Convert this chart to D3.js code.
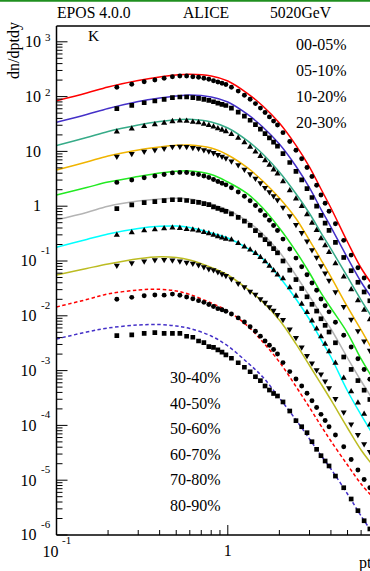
<!DOCTYPE html>
<html>
<head>
<meta charset="utf-8">
<script src="https://cdn.jsdelivr.net/npm/d3@7"></script>
<style>
  html, body { margin: 0; padding: 0; background: #fff; }
  svg { display: block; }
</style>
</head>
<body>
<svg id="chart" width="370" height="571"></svg>
<script>
// pt bin centres of the measured points (GeV/c)
const ptBins = [0.225, 0.275, 0.325, 0.375, 0.425, 0.475, 0.525, 0.575, 0.625, 0.675,
  0.725, 0.775, 0.825, 0.875, 0.925, 0.975, 1.05, 1.15, 1.25, 1.35, 1.45, 1.55, 1.65,
  1.75, 1.85, 1.95, 2.1, 2.3, 2.5, 2.7, 2.9, 3.1, 3.3, 3.5, 3.7, 3.9, 4.25, 4.75, 5.25,
  5.75, 6.25, 6.75];

// data points, one array per centrality class
const data00_05 = [148, 168, 187, 201, 216, 231, 238, 238, 231, 225, 216, 207, 195, 185, 175, 166,
  148, 126, 106, 89.3, 74.5, 61.7, 51.1, 42.6, 35.7, 30.3, 22.0, 15.2, 10.5, 7.33, 5.08, 3.48,
  2.42, 1.60, 1.135, 0.811, 0.477, 0.238, 0.128, 0.0751, 0.049, 0.0338];
const data05_10 = [60.4, 69.1, 77.3, 83.1, 89.2, 95.5, 98.3, 98.3, 95.5, 93.1, 89.2, 85.5, 80.6,
  76.2, 72.3, 68.8, 61.5, 52.2, 44.1, 37.0, 30.8, 25.5, 21.1, 17.6, 14.8, 12.5, 9.12, 6.27, 4.33,
  3.03, 2.10, 1.44, 1.00, 0.68, 0.493, 0.362, 0.219, 0.116, 0.0665, 0.0409, 0.0272, 0.0188];
const data10_20 = [22.8, 25.8, 28.8, 30.9, 33.1, 35.3, 36.2, 35.9, 34.5, 33.6, 31.7, 30.0, 28.1,
  26.3, 24.7, 23.2, 20.6, 17.5, 14.6, 12.0, 9.9, 8.2, 6.81, 5.65, 4.65, 3.90, 2.81, 1.94, 1.37,
  0.998, 0.708, 0.495, 0.364, 0.258, 0.191, 0.144, 0.0904, 0.0517, 0.0302, 0.0191, 0.0127, 0.00855];
const data20_30 = [8.1, 9.07, 10.0, 10.65, 11.3, 12.1, 12.3, 12.2, 11.7, 11.25, 10.6, 10.1, 9.4,
  8.66, 8.04, 7.48, 6.62, 5.62, 4.69, 3.85, 3.19, 2.64, 2.18, 1.82, 1.53, 1.30, 0.947, 0.66, 0.46,
  0.326, 0.229, 0.159, 0.116, 0.081, 0.0597, 0.0441, 0.0273, 0.0147, 0.00855, 0.00526, 0.00344, 0.00233];
const data30_40 = [2.72, 3.01, 3.31, 3.56, 3.80, 4.05, 4.14, 4.11, 3.93, 3.79, 3.56, 3.34, 3.07,
  2.83, 2.63, 2.45, 2.17, 1.82, 1.52, 1.26, 1.03, 0.837, 0.68, 0.555, 0.443, 0.36, 0.251, 0.166,
  0.113, 0.0787, 0.056, 0.0398, 0.0293, 0.0203, 0.0153, 0.0118, 0.0076, 0.00443, 0.0027, 0.00164,
  0.00105, 0.000695];
const data40_50 = [0.904, 1.06, 1.16, 1.21, 1.26, 1.31, 1.31, 1.27, 1.21, 1.17, 1.11, 1.065, 0.975,
  0.91, 0.852, 0.804, 0.723, 0.627, 0.535, 0.448, 0.359, 0.297, 0.246, 0.205, 0.168, 0.141, 0.100,
  0.068, 0.0458, 0.0314, 0.0222, 0.0162, 0.0122, 0.00882, 0.0067, 0.00506, 0.00322, 0.00177,
  0.00105, 0.000657, 0.000439, 0.000297];
const data50_60 = [0.297, 0.33, 0.359, 0.377, 0.39, 0.405, 0.398, 0.38, 0.373, 0.356, 0.334, 0.318,
  0.297, 0.28, 0.265, 0.252, 0.243, 0.21, 0.182, 0.16, 0.138, 0.117, 0.0975, 0.0814, 0.0672, 0.056,
  0.0477, 0.0328, 0.0231, 0.0164, 0.0116, 0.0081, 0.00582, 0.00419, 0.00307, 0.00224, 0.00137,
  0.000736, 0.000416, 0.000258, 0.000162, 0.000103];
const data60_70 = [0.0826, 0.0924, 0.099, 0.104, 0.105, 0.103, 0.099, 0.094, 0.0899, 0.0842, 0.0778,
  0.0717, 0.0688, 0.0631, 0.0582, 0.0537, 0.0469, 0.0390, 0.0337, 0.0278, 0.0244, 0.0202, 0.0174,
  0.0145, 0.0125, 0.0104, 0.00845, 0.0057, 0.00397, 0.00266, 0.00186, 0.00136, 0.00103, 0.000855,
  0.000641, 0.000479, 0.000307, 0.000173, 0.000105, 0.0000673, 0.0000458, 0.0000330];
const data70_80 = [0.02, 0.0217, 0.0232, 0.0239, 0.0238, 0.0249, 0.0237, 0.0221, 0.0204, 0.0189,
  0.0176, 0.0161, 0.0148, 0.0135, 0.0129, 0.0121, 0.0108, 0.00915, 0.00773, 0.0063, 0.00524,
  0.00425, 0.00348, 0.00291, 0.00242, 0.00201, 0.0014, 0.000958, 0.000703, 0.000522, 0.000385,
  0.000281, 0.000212, 0.000159, 0.000123, 0.0000943, 0.0000668, 0.0000407, 0.0000238, 0.0000154,
  0.0000103, 0.00000726];
const data80_90 = [0.00434, 0.00447, 0.00479, 0.00492, 0.00479, 0.00479, 0.00479, 0.00423, 0.00406,
  0.00347, 0.00323, 0.00273, 0.00266, 0.00238, 0.00218, 0.00193, 0.00168, 0.00139, 0.00115,
  0.000954, 0.000773, 0.000655, 0.000524, 0.000442, 0.000382, 0.000344, 0.000268, 0.000183,
  0.000122, 0.0000947, 0.0000736, 0.0000504, 0.0000366, 0.000028, 0.0000224, 0.0000182, 0.0000119,
  0.00000729, 0.00000454, 0.00000278, 0.00000182, 0.00000129];

// EPOS curves, sampled at these pt values
const ptModel = [0.1, 0.15, 0.2, 0.3, 0.4, 0.5, 0.6, 0.8, 1.0, 1.3, 1.6, 2.0, 2.5, 3.0, 3.5, 4.0, 5.0, 6.0, 7.0];
const epos00_05 = [84.2, 116, 150, 197, 228, 248, 256, 238, 193, 115, 67.4, 33.0, 12.9, 5.19, 2.06, 0.927, 0.222, 0.0745, 0.0365];
const epos05_10 = [34.0, 47.1, 60.7, 81.4, 94.3, 102.6, 107, 98.3, 79.7, 47.7, 27.9, 13.6, 5.35, 2.15, 0.878, 0.417, 0.1135, 0.0414, 0.0203];
const epos10_20 = [12.8, 17.9, 23.1, 30.3, 35.1, 37.9, 38.5, 34.4, 26.7, 15.7, 8.97, 4.21, 1.69, 0.736, 0.327, 0.166, 0.0511, 0.0194, 0.00912];
const epos20_30 = [4.58, 6.41, 8.24, 10.6, 12.0, 12.9, 13.1, 11.5, 8.6, 5.04, 2.88, 1.41, 0.597, 0.237, 0.105, 0.0511, 0.0145, 0.00551, 0.00238];
const epos30_40 = [1.60, 2.19, 2.76, 3.48, 4.03, 4.34, 4.39, 3.79, 2.76, 1.69, 0.927, 0.40, 0.150, 0.0604, 0.0263, 0.0139, 0.00485, 0.00163, 0.000733];
const epos40_50 = [0.560, 0.767, 0.995, 1.24, 1.35, 1.39, 1.35, 1.10, 0.853, 0.532, 0.311, 0.146, 0.0544, 0.0225, 0.0107, 0.00574, 0.0017, 0.000646, 0.000303];
const epos50_60 = [0.178, 0.247, 0.311, 0.392, 0.430, 0.435, 0.409, 0.324, 0.263, 0.171, 0.109, 0.0511, 0.0203, 0.00856, 0.00368, 0.00177, 0.000424, 0.000155, 0.0000697];
const epos60_70 = [0.0555, 0.073, 0.0882, 0.110, 0.120, 0.116, 0.104, 0.0761, 0.0555, 0.031, 0.0179, 0.00838, 0.00308, 0.00124, 0.000574, 0.000291, 0.0000897, 0.0000356, 0.0000189];
const epos70_80 = [0.0145, 0.0198, 0.025, 0.0296, 0.0305, 0.0284, 0.0245, 0.0171, 0.0122, 0.00657, 0.00333, 0.00144, 0.000513, 0.000212, 0.0000983, 0.0000519, 0.0000189, 0.00000852, 0.00000493];
const epos80_90 = [0.00377, 0.00506, 0.00599, 0.00679, 0.00694, 0.00651, 0.00586, 0.00428, 0.00281, 0.00141, 0.000764, 0.000316, 0.000126, 0.0000565, 0.0000284, 0.000016, 0.0000056, 0.00000222, 0.00000109];

const centralities = ['00-05%', '05-10%', '10-20%', '20-30%', '30-40%', '40-50%', '50-60%', '60-70%', '70-80%', '80-90%'];
const yDecades = [-6, -5, -4, -3, -2, -1, 0, 1, 2, 3];

(function () {
  const sv = d3.select('#chart');
  const serif = '"Liberation Serif", "Times New Roman", serif';
  const left = 56.5, bottom = 535, top = 26, right = 370;

  const x = d3.scaleLog().domain([0.1, 10]).range([left, left + 2 * 171.3]);
  const y = d3.scaleLog().domain([1e-6, 1e3]).range([bottom, bottom - 9 * 54.8]);

  const dataSets = [data00_05, data05_10, data10_20, data20_30, data30_40,
    data40_50, data50_60, data60_70, data70_80, data80_90];
  const models = [epos00_05, epos05_10, epos10_20, epos20_30, epos30_40,
    epos40_50, epos50_60, epos60_70, epos70_80, epos80_90];
  const colors = ['#ff0000', '#4430c8', '#36ab88', '#f0b400', '#22ea22',
    '#b4b4b4', '#00ffff', '#bcbc22', '#ff0000', '#4430c8'];
  const marks = ['circle', 'square', 'up', 'down', 'circle', 'square', 'up', 'down', 'circle', 'square'];

  // green page border at the very top
  sv.append('line').attr('x1', 0).attr('x2', 370).attr('y1', 0.8).attr('y2', 0.8)
    .attr('stroke', '#1f8f1f').attr('stroke-width', 1.8);

  sv.append('clipPath').attr('id', 'plotclip')
    .append('rect').attr('x', left).attr('y', top).attr('width', right - left).attr('height', bottom - top);

  // model curves
  const line = d3.line()
    .x((d, i) => x(ptModel[i]))
    .y(d => y(d))
    .curve(d3.curveCatmullRom.alpha(0.5));
  const curves = sv.append('g').attr('clip-path', 'url(#plotclip)');
  models.forEach((m, s) => {
    curves.append('path')
      .attr('d', line(m))
      .attr('fill', 'none')
      .attr('stroke', colors[s])
      .attr('stroke-width', 1.5)
      .attr('stroke-dasharray', s >= 8 ? '3.5 2.5' : null);
  });

  // data points
  const pts = sv.append('g').attr('clip-path', 'url(#plotclip)');
  const sym = {
    circle: d3.symbol().type(d3.symbolCircle).size(19)(),
    square: d3.symbol().type(d3.symbolSquare).size(22)(),
    up: d3.symbol().type(d3.symbolTriangle).size(16)(),
    down: d3.symbol().type(d3.symbolTriangle).size(16)()
  };
  dataSets.forEach((ds, s) => {
    pts.selectAll(null).data(ds).enter().append('path')
      .attr('d', sym[marks[s]])
      .attr('transform', (d, i) => `translate(${x(ptBins[i])},${y(d)})` + (marks[s] === 'down' ? ' rotate(180)' : ''))
      .attr('fill', '#000');
  });

  // frame
  sv.append('line').attr('x1', left).attr('x2', right).attr('y1', top).attr('y2', top)
    .attr('stroke', '#000').attr('stroke-width', 1.3);
  sv.append('line').attr('x1', left).attr('x2', left).attr('y1', top).attr('y2', bottom)
    .attr('stroke', '#000').attr('stroke-width', 1.5);
  sv.append('line').attr('x1', left).attr('x2', right).attr('y1', bottom).attr('y2', bottom)
    .attr('stroke', '#000').attr('stroke-width', 1.5);

  // y ticks
  const yt = sv.append('g');
  yDecades.forEach(k => {
    const ty = y(Math.pow(10, k));
    yt.append('line').attr('x1', left).attr('x2', left + 11).attr('y1', ty).attr('y2', ty)
      .attr('stroke', '#000').attr('stroke-width', 1);
    for (let m = 2; m <= 9; m++) {
      const my = y(m * Math.pow(10, k));
      if (my < top) continue;
      yt.append('line').attr('x1', left).attr('x2', left + 6).attr('y1', my).attr('y2', my)
        .attr('stroke', '#000').attr('stroke-width', 1);
    }
    const lab = (tx, tyy, txt, size, anchor) => yt.append('text')
      .attr('x', tx).attr('y', tyy).attr('text-anchor', anchor)
      .attr('font-family', serif).attr('font-size', size).attr('fill', '#000').text(txt);
    if (k === 0) lab(41, ty + 4.8, '1', 16, 'end');
    else if (k === 1) lab(41, ty + 5.3, '10', 16, 'end');
    else if (k > 1) { lab(41, ty + 5.3, '10', 16, 'end'); lab(45, ty - 0.5, String(k), 11, 'start'); }
    else { lab(36.5, ty + 5.3, '10', 16, 'end'); lab(41, ty - 7, '-' + (-k), 11, 'start'); }
  });

  // x ticks
  const xt = sv.append('g');
  [0.2, 0.3, 0.4, 0.5, 0.6, 0.7, 0.8, 0.9, 1, 2, 3, 4, 5, 6].forEach(v => {
    const tx = x(v);
    if (tx > right) return;
    xt.append('line').attr('x1', tx).attr('x2', tx).attr('y1', bottom).attr('y2', bottom - (v === 1 ? 10 : 5))
      .attr('stroke', '#000').attr('stroke-width', 1);
  });
  xt.append('text').attr('x', x(0.1) - 14).attr('y', 556.5).attr('font-family', serif)
    .attr('font-size', 16).text('10');
  xt.append('text').attr('x', x(0.1) + 5.5).attr('y', 543.5).attr('font-family', serif)
    .attr('font-size', 11).text('-1');
  xt.append('text').attr('x', x(1)).attr('y', 556).attr('text-anchor', 'middle')
    .attr('font-family', serif).attr('font-size', 16).text('1');
  xt.append('text').attr('x', 359).attr('y', 568).attr('font-family', serif)
    .attr('font-size', 16).text('pt');

  // axis title
  sv.append('text').attr('transform', 'translate(19,22) rotate(-90)')
    .attr('text-anchor', 'end').attr('font-family', serif).attr('font-size', 16).text('dn/dptdy');

  // header
  const head = (tx, txt) => sv.append('text').attr('x', tx).attr('y', 18)
    .attr('font-family', serif).attr('font-size', 15.7).text(txt);
  head(57, 'EPOS 4.0.0');
  head(183, 'ALICE');
  head(270, '5020GeV');

  sv.append('text').attr('x', 88).attr('y', 41).attr('font-family', serif)
    .attr('font-size', 15.5).text('K');

  // centrality labels
  const topY = [50, 76, 102, 127.5];
  const lowY = [383, 408.5, 434, 459.5, 485, 510.5];
  centralities.forEach((c, i) => {
    const lx = i < 4 ? 296 : 170;
    const ly = i < 4 ? topY[i] : lowY[i - 4];
    sv.append('text').attr('x', lx).attr('y', ly).attr('font-family', serif)
      .attr('font-size', 16).attr('fill', '#000').text(c);
  });
})();
</script>
</body>
</html>
